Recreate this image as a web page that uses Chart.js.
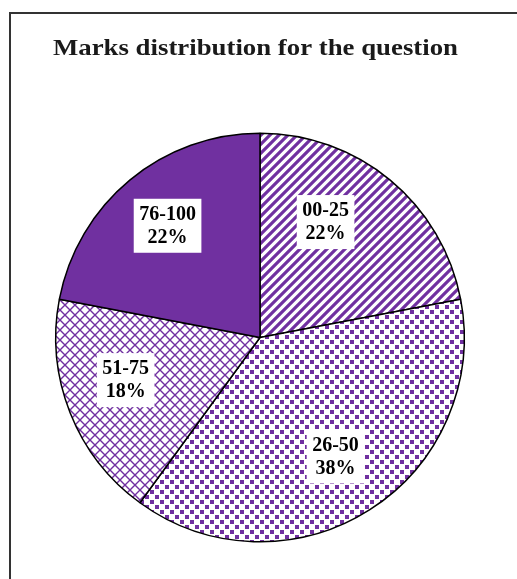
<!DOCTYPE html>
<html>
<head>
<meta charset="utf-8">
<script src="https://cdn.jsdelivr.net/npm/chart.js@4/dist/chart.umd.min.js"></script>
<style>
  html, body { margin: 0; padding: 0; background: #fff; overflow: hidden; }
  #wrap { position: relative; width: 517px; height: 579px; }
  #frame { position: absolute; left: 9px; top: 12px; width: 520px; height: 600px;
           border-left: 2px solid #333; border-top: 2px solid #333; }
  canvas { position: absolute; left: 0; top: 0; }
</style>
</head>
<body>
<div id="wrap">
  <div id="frame"></div>
  <canvas id="pieChart" width="517" height="579"></canvas>
</div>
<script>
// DATA
const markBands = ['00-25', '26-50', '51-75', '76-100'];
const bandPercents = [22, 38, 18, 22];
const chartTitle = 'Marks distribution for the question';

const PURPLE = '#7030A0';

// pattern tiles, Excel style
function makePattern(size, drawTile) {
  const c = document.createElement('canvas');
  c.width = size; c.height = size;
  const g = c.getContext('2d');
  g.fillStyle = '#fff';
  g.fillRect(0, 0, size, size);
  drawTile(g, size);
  return document.getElementById('pieChart').getContext('2d').createPattern(c, 'repeat');
}

const stripes = makePattern(9, (g, s) => {
  g.strokeStyle = PURPLE;
  g.lineWidth = 3.2;
  g.beginPath();
  g.moveTo(-2, s + 2); g.lineTo(s + 2, -2);
  g.moveTo(-3, 3); g.lineTo(3, -3);
  g.moveTo(s - 3, s + 3); g.lineTo(s + 3, s - 3);
  g.stroke();
});

const dots = makePattern(10, (g, s) => {
  g.fillStyle = PURPLE;
  g.fillRect(0, 0, 4, 4);
  g.fillRect(5, 5, 4, 4);
});

const diamonds = makePattern(10, (g, s) => {
  g.strokeStyle = PURPLE;
  g.lineWidth = 1.4;
  g.beginPath();
  g.moveTo(0, 0); g.lineTo(s, s);
  g.moveTo(0, s); g.lineTo(s, 0);
  g.stroke();
});

const sliceFills = [stripes, dots, diamonds, PURPLE];

// title drawn a bit wider than the plain serif, like the original
const wideTitle = {
  id: 'wideTitle',
  afterDraw(chart, args, opts) {
    const ctx = chart.ctx;
    ctx.save();
    ctx.font = 'bold 23px "Liberation Serif", "Times New Roman", serif';
    ctx.fillStyle = '#1a1a1a';
    ctx.textBaseline = 'alphabetic';
    ctx.textAlign = 'left';
    const w = ctx.measureText(chartTitle).width;
    const sx = opts.width / w;
    ctx.translate(opts.left, opts.baseline);
    ctx.scale(sx, 1);
    ctx.fillText(chartTitle, 0, 0);
    ctx.restore();
  }
};

// white boxed labels inside the slices
const boxLabels = {
  id: 'boxLabels',
  afterDatasetsDraw(chart, args, opts) {
    const ctx = chart.ctx;
    const meta = chart.getDatasetMeta(0);
    ctx.save();
    ctx.font = 'bold 20px "Liberation Serif", "Times New Roman", serif';
    ctx.textAlign = 'center';
    ctx.textBaseline = 'middle';
    meta.data.forEach((arc, i) => {
      const p = arc.getProps(['x', 'y', 'startAngle', 'endAngle', 'outerRadius'], true);
      const a = (p.startAngle + p.endAngle) / 2 + opts.angleShift[i] * Math.PI / 180;
      const r = p.outerRadius * opts.radiusFrac[i];
      const cx = p.x + Math.cos(a) * r;
      const cy = p.y + Math.sin(a) * r;
      const lines = [markBands[i], bandPercents[i] + '%'];
      const w = Math.max(...lines.map(t => ctx.measureText(t).width)) + 11;
      const h = 54;
      ctx.fillStyle = '#fff';
      ctx.fillRect(cx - w / 2, cy - h / 2, w, h);
      ctx.fillStyle = '#000';
      ctx.fillText(lines[0], cx, cy - 11);
      ctx.fillText(lines[1], cx, cy + 12);
    });
    ctx.restore();
  }
};

new Chart(document.getElementById('pieChart'), {
  type: 'pie',
  data: {
    labels: markBands,
    datasets: [{
      data: bandPercents,
      backgroundColor: sliceFills,
      borderColor: '#000',
      borderWidth: 1.5
    }]
  },
  options: {
    responsive: false,
    animation: false,
    layout: { padding: { left: 55, right: 52, top: 132, bottom: 36 } },
    plugins: {
      legend: { display: false },
      tooltip: { enabled: false },
      title: { display: false },
      wideTitle: { left: 53, baseline: 55, width: 405 },
      boxLabels: {
        angleShift: [-10, 0, 4, 0],
        radiusFrac: [0.65, 0.69, 0.69, 0.71]
      }
    }
  },
  plugins: [wideTitle, boxLabels]
});
</script>
</body>
</html>
